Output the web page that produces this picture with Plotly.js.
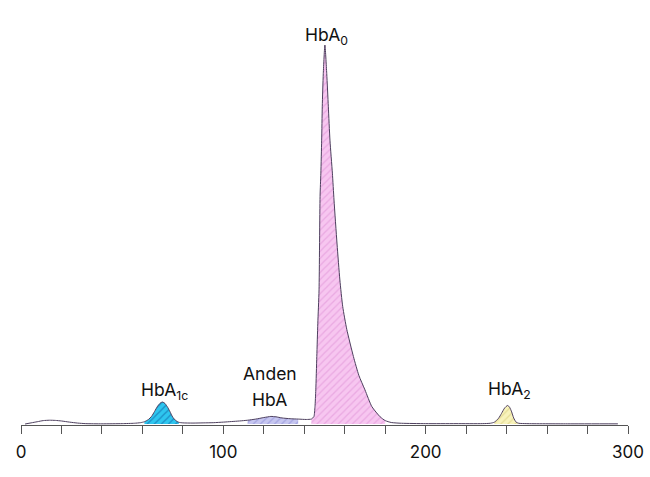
<!DOCTYPE html>
<html>
<head>
<meta charset="utf-8">
<script src="https://cdn.plot.ly/plotly-3.0.1.min.js"></script>
<style>html,body{margin:0;padding:0;background:#fff;}#chart{width:650px;height:477px;}</style>
</head>
<body>
<div id="chart"></div>
<script>
// Chromatogram trace (retention position vs. signal, % of HbA0 peak)
const curveX = [2,5,8,11,14,17,20,24,28,32,40,50,56,59,61,63,64.5,66,67.5,69,70,71.2,72.5,73.5,75,76.5,78,80,85,90,95,100,104,108,112,116,120,123.5,126,129,133,137,141,143.5,144.2,144.8,145.3,145.7,146.2,146.7,147.3,147.8,148.2,148.6,148.9,149.4,150.2,151.1,151.9,152.7,153.9,154.7,156.2,157.6,159.0,161.0,164.3,167,170.0,173.4,177.5,180,183,188,200,215,228,232,234,236,237.5,239,240.5,241.5,242.5,243.5,244.7,246,250,270,295];
const curveY = [0,0.3,0.6,0.9,1.0,0.95,0.8,0.5,0.25,0.1,0.05,0.1,0.2,0.35,0.6,1.2,2.0,3.3,4.7,5.6,5.8,5.4,4.4,3.4,1.8,0.9,0.45,0.3,0.25,0.3,0.35,0.5,0.65,0.8,1.0,1.3,1.7,2.0,1.9,1.6,1.4,1.3,1.2,1.3,1.6,2.0,4.6,9.0,17.8,26.6,35.4,60.0,66.2,74.9,83.7,92.5,100,92.5,83.7,74.9,66.2,59.1,47.5,38.0,31.0,25.0,17.8,12.8,9.0,4.6,1.9,0.9,0.4,0.2,0.1,0.1,0.1,0.2,0.5,1.5,2.8,4.2,4.9,4.4,3.2,1.6,0.5,0.2,0.1,0.05,0.05];

// Peaks: name, start, end, fill colour, hatch colour
const peakNames  = ["HbA<sub>1c</sub>", "Anden HbA", "HbA<sub>0</sub>", "HbA<sub>2</sub>"];
const peakStart  = [60, 112, 143.5, 233];
const peakEnd    = [78.5, 137, 182, 246];
const peakFill   = ["#2ec6ef", "#c6c6f0", "#f7c6f0", "#f8f3bb"];
const peakHatch  = ["#1b8cc4", "#a4a4e0", "#eaa9e2", "#e6dd98"];

// Axis ticks
const tickVals = [0,20,40,60,80,100,120,140,160,180,200,220,240,260,280,300];
const tickText = ["0","","","","","100","","","","","200","","","","","300"];

const traces = [];
peakStart.forEach((s, i) => {
  const xs = [], ys = [];
  curveX.forEach((x, j) => { if (x >= s && x <= peakEnd[i]) { xs.push(x); ys.push(curveY[j]); } });
  traces.push({
    x: xs, y: ys, type: "scatter", mode: "lines",
    line: {width: 0, color: peakFill[i], shape: "spline", smoothing: 0.6},
    fill: "tozeroy", fillcolor: peakFill[i],
    fillpattern: {shape: "/", bgcolor: peakFill[i], fgcolor: peakHatch[i], size: 5, solidity: 0.25},
    hoverinfo: "skip", showlegend: false
  });
});
traces.push({
  x: curveX, y: curveY, type: "scatter", mode: "lines",
  line: {width: 1, color: "#4d3f5e", shape: "spline", smoothing: 0.6}, showlegend: false
});

function peakTop(i) {
  let best = -1, bx = 0;
  curveX.forEach((x, j) => { if (x >= peakStart[i] && x <= peakEnd[i] && curveY[j] > best) { best = curveY[j]; bx = x; } });
  return [bx, best];
}

const lblFont = {family: "Inter, 'Liberation Sans', sans-serif", size: 17.5, color: "#111"};
const anns = [];
const shifts = [-3, 0, -5, 1];
peakNames.forEach((n, i) => {
  const [px, py] = peakTop(i);
  if (i === 1) {
    anns.push({x: px - 0.5, y: py, xref: "x", yref: "y", text: "HbA", showarrow: false, yanchor: "bottom", yshift: 4, font: lblFont});
    anns.push({x: px - 0.5, y: py, xref: "x", yref: "y", text: "Anden", showarrow: false, yanchor: "bottom", yshift: 30, font: lblFont});
  } else {
    anns.push({x: px + 0.8, y: py, xref: "x", yref: "y", text: n, showarrow: false, yanchor: "bottom", yshift: shifts[i], font: lblFont});
  }
});

const layout = {
  width: 650, height: 477,
  margin: {l: 21, r: 22, t: 20, b: 52},
  paper_bgcolor: "#fff", plot_bgcolor: "#fff",
  showlegend: false,
  xaxis: {
    range: [0, 300], showgrid: false, zeroline: false,
    showline: true, linecolor: "#555", linewidth: 1,
    ticks: "outside", ticklen: 8, tickcolor: "#555", tickwidth: 1,
    ticklabelstandoff: 4,
    tickvals: tickVals, ticktext: tickText,
    tickfont: {family: "Inter, 'Liberation Sans', sans-serif", size: 17, color: "#111"}
  },
  yaxis: {visible: false, range: [-0.26, 106.6], fixedrange: true},
  annotations: anns
};

Plotly.newPlot("chart", traces, layout, {displayModeBar: false, staticPlot: true});
</script>
</body>
</html>
